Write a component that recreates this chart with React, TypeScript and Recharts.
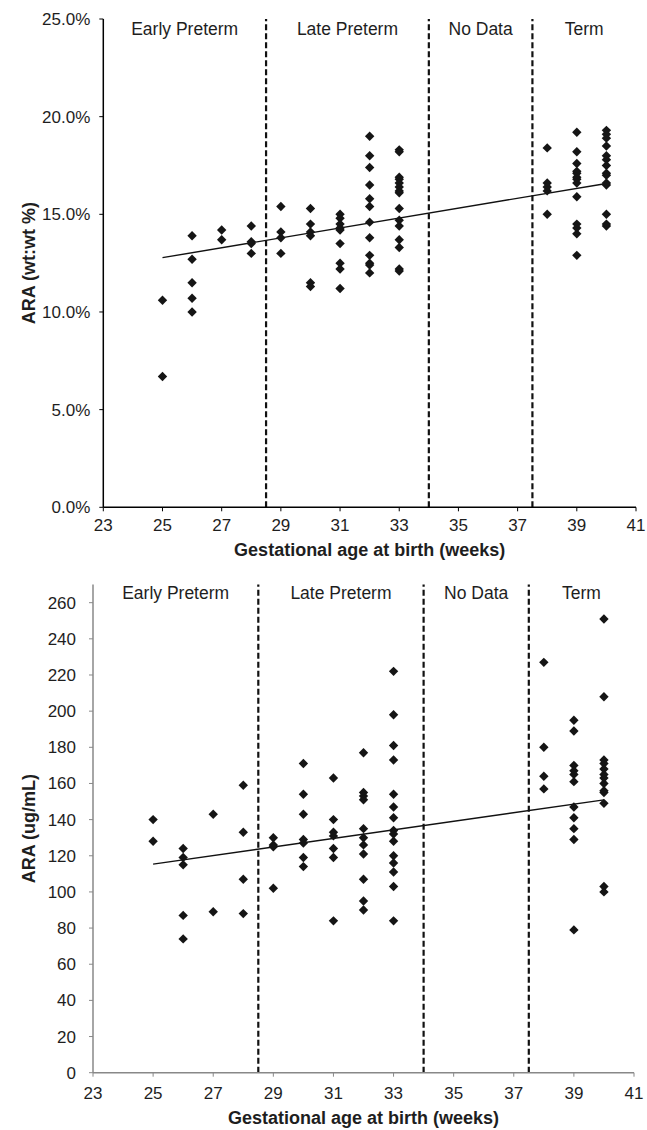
import React from 'react';
import { ScatterChart, Scatter, XAxis, YAxis, ReferenceLine, ReferenceArea, Label } from 'recharts';

const FONT = '"Liberation Sans", Arial, Helvetica, sans-serif';

// Gestational weeks with observations
const weeks = [25, 26, 27, 28, 29, 30, 31, 32, 33, 38, 39, 40];

// ARA (wt:wt %) values per week (top panel)
const araPctByWeek = [
  [10.6, 6.7],
  [13.9, 12.7, 11.5, 10.7, 10.0],
  [14.2, 13.7],
  [14.4, 13.6, 13.5, 13.0],
  [15.4, 14.1, 13.8, 13.0],
  [15.3, 14.5, 14.1, 13.9, 11.5, 11.3],
  [15.0, 14.8, 14.5, 14.3, 14.2, 13.5, 12.5, 12.2, 11.2],
  [19.0, 18.0, 17.4, 16.5, 15.8, 15.4, 14.6, 13.8, 12.9, 12.5, 12.4, 12.0],
  [18.3, 18.2, 16.9, 16.8, 16.6, 16.4, 16.2, 16.1, 15.3, 14.7, 14.4, 13.7, 13.3, 12.2, 12.1],
  [18.4, 16.6, 16.4, 16.2, 15.0],
  [19.2, 18.2, 17.6, 17.2, 17.1, 16.9, 16.8, 16.6, 15.9, 14.5, 14.3, 14.0, 12.9],
  [19.3, 19.1, 18.9, 18.5, 18.0, 17.8, 17.5, 17.1, 17.0, 16.6, 16.5, 15.0, 14.5, 14.4],
];

// ARA (ug/mL) values per week (bottom panel)
const araUgByWeek = [
  [140, 128],
  [124, 119, 115, 87, 74],
  [143, 89],
  [159, 133, 107, 88],
  [130, 126, 125, 102],
  [171, 154, 143, 129, 127, 119, 114],
  [163, 140, 133, 131, 124, 119, 84],
  [177, 155, 153, 151, 135, 130, 126, 121, 107, 95, 90],
  [222, 198, 181, 173, 154, 147, 141, 134, 132, 128, 120, 116, 111, 103, 84],
  [227, 180, 164, 157],
  [195, 189, 170, 167, 165, 161, 147, 141, 135, 129, 79],
  [251, 208, 173, 171, 168, 165, 163, 160, 156, 155, 149, 103, 100],
];

// Linear trend endpoints
const trendX = [25, 40];
const trendPct = [12.78, 16.58];
const trendUg = [115.4, 150.9];

// Axes
const xTicks = [23, 25, 27, 29, 31, 33, 35, 37, 39, 41];
const pctTicks = [0, 5, 10, 15, 20, 25];
const ugTicks = [0, 20, 40, 60, 80, 100, 120, 140, 160, 180, 200, 220, 240, 260];

// Period boundaries and labels
const boundaries = [28.5, 34, 37.5];
const periodNames = ['Early Preterm', 'Late Preterm', 'No Data', 'Term'];
const periodEdges = [23, 28.5, 34, 37.5, 41];

const toPoints = (byWeek: number[][]) =>
  weeks.flatMap((w, i) => byWeek[i].map((v) => ({ x: w, y: v })));

const Diamond = (props: any) => {
  const { cx, cy } = props;
  if (cx == null || cy == null) return null;
  const r = 4.7;
  return <path d={`M${cx},${cy - r}L${cx + r},${cy}L${cx},${cy + r}L${cx - r},${cy}Z`} fill="#151515" />;
};

type PanelProps = {
  top: number;
  height: number;
  margin: { top: number; right: number; left: number; bottom: number };
  yWidth: number;
  xHeight: number;
  yDomain: [number, number];
  yTicks: number[];
  yFmt: (v: number) => string;
  yTitle: string;
  data: { x: number; y: number }[];
  trend: number[];
  axisColor: string;
  xTitleOffset: number;
  xTickMargin: number;
  yTickMargin: number;
  areaLabelOffset: number;
};

const Panel = (p: PanelProps) => {
  const tickStyle = { fontSize: 17, fill: '#1e1e1e', fontFamily: FONT };
  const titleStyle = { fontSize: 18, fontWeight: 'bold', fill: '#1e1e1e', fontFamily: FONT };
  return (
    <div style={{ position: 'absolute', left: 0, top: p.top, width: 647, height: p.height }}>
      <ScatterChart width={647} height={p.height} margin={p.margin}>
        <XAxis
          type="number"
          dataKey="x"
          domain={[23, 41]}
          ticks={xTicks}
          interval={0}
          height={p.xHeight}
          stroke={p.axisColor}
          tickSize={4}
          tickMargin={p.xTickMargin}
          tick={tickStyle}
          tickLine={{ stroke: p.axisColor }}
          axisLine={{ stroke: p.axisColor, strokeWidth: 1.5 }}
          allowDataOverflow
        >
          <Label
            value="Gestational age at birth (weeks)"
            position="insideBottom"
            offset={p.xTitleOffset}
            style={titleStyle}
          />
        </XAxis>
        <YAxis
          type="number"
          dataKey="y"
          domain={p.yDomain}
          ticks={p.yTicks}
          interval={0}
          width={p.yWidth}
          stroke={p.axisColor}
          tickSize={4}
          tickMargin={p.yTickMargin}
          tick={tickStyle}
          tickFormatter={p.yFmt}
          tickLine={{ stroke: p.axisColor }}
          axisLine={{ stroke: p.axisColor, strokeWidth: 1.5 }}
          allowDataOverflow
        >
          <Label
            value={p.yTitle}
            angle={-90}
            position="insideLeft"
            offset={29}
            style={{ ...titleStyle, textAnchor: 'middle' }}
          />
        </YAxis>
        {periodNames.map((name, i) => (
          <ReferenceArea
            key={name}
            x1={periodEdges[i]}
            x2={periodEdges[i + 1]}
            fill="#ffffff"
            fillOpacity={0}
            stroke="none"
            ifOverflow="extendDomain"
            label={{
              value: name,
              position: 'insideTop',
              offset: p.areaLabelOffset,
              fill: '#1e1e1e',
              fontSize: 17.5,
              fontFamily: FONT,
            }}
          />
        ))}
        {boundaries.map((b) => (
          <ReferenceLine key={b} x={b} stroke="#111" strokeWidth={2.2} strokeDasharray="6 3" />
        ))}
        <ReferenceLine
          segment={[
            { x: trendX[0], y: p.trend[0] },
            { x: trendX[1], y: p.trend[1] },
          ]}
          stroke="#111"
          strokeWidth={1.4}
        />
        <Scatter data={p.data} shape={<Diamond />} isAnimationActive={false} />
      </ScatterChart>
    </div>
  );
};

export default function App() {
  return (
    <div style={{ position: 'absolute', left: 0, top: 0, width: 647, height: 1130, background: '#fff' }}>
      <Panel
        top={0}
        height={565}
        margin={{ top: 19, right: 11, left: 0, bottom: 0 }}
        yWidth={103.3}
        xHeight={57.7}
        yDomain={[0, 25]}
        yTicks={pctTicks}
        yFmt={(v) => `${v.toFixed(1)}%`}
        yTitle="ARA (wt:wt %)"
        data={toPoints(araPctByWeek)}
        trend={trendPct}
        axisColor="#000"
        xTitleOffset={9}
        xTickMargin={8}
        yTickMargin={9}
        areaLabelOffset={4}
      />
      <Panel
        top={565}
        height={565}
        margin={{ top: 19.6, right: 13, left: 0, bottom: 0 }}
        yWidth={93}
        xHeight={57.3}
        yDomain={[0, 270]}
        yTicks={ugTicks}
        yFmt={(v) => `${v}`}
        yTitle="ARA (ug/mL)"
        data={toPoints(araUgByWeek)}
        trend={trendUg}
        axisColor="#888"
        xTitleOffset={6}
        xTickMargin={10}
        yTickMargin={13}
        areaLabelOffset={2}
      />
    </div>
  );
}
